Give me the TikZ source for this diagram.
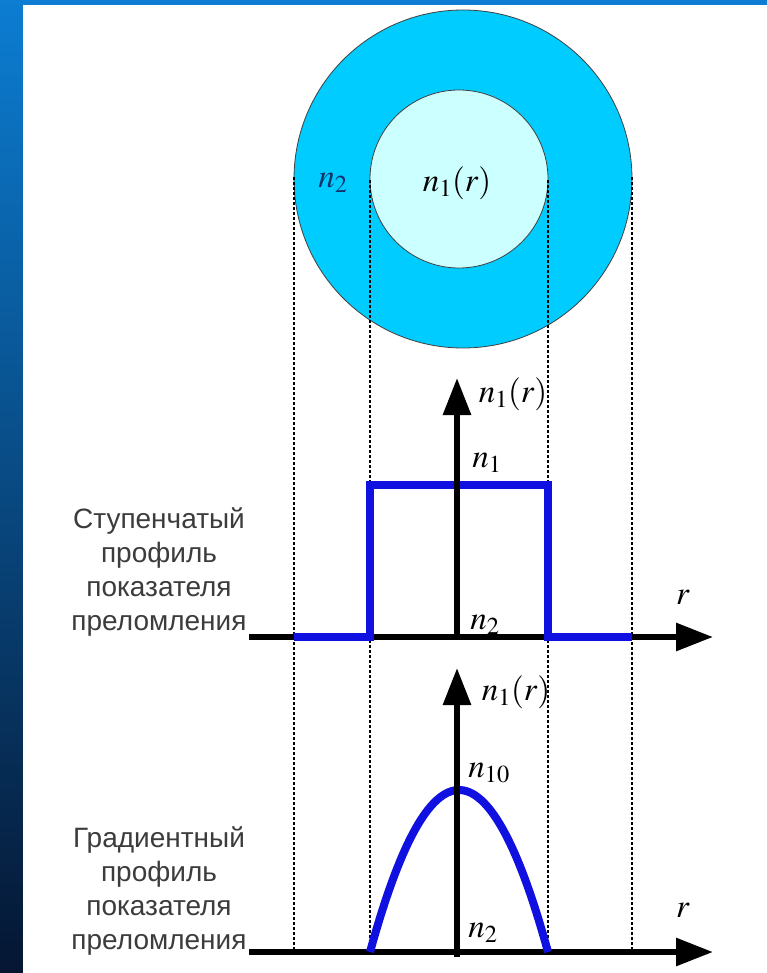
\documentclass[tikz,border=0pt]{standalone}
\usepackage{mathptmx}
\usepackage[no-math]{fontspec}
\setmainfont{Liberation Sans}
\usetikzlibrary{arrows.meta}
\definecolor{slidetop}{RGB}{12,125,210}
\definecolor{slidebot}{RGB}{5,22,50}
\definecolor{cladding}{RGB}{0,204,255}
\definecolor{core}{RGB}{204,255,255}
\definecolor{profile}{RGB}{16,16,224}
\definecolor{captiongray}{RGB}{60,60,60}
\definecolor{darkn}{RGB}{20,50,110}
\tikzset{
  guide/.style = {black, line width=2.2pt, dash pattern=on 3pt off 2pt},
  axis/.style = {black, line width=6pt, -{Triangle[length=37pt,width=27pt]}},
  prof/.style = {profile, line width=8pt},
  lbl/.style = {inner sep=0pt, font=\fontsize{33}{33}\selectfont},
  caption/.style = {align=center, text=captiongray, inner sep=0pt, font=\fontsize{28}{34}\selectfont},
}

\begin{document}
\begin{tikzpicture}[x=1pt, y=-1pt]
    \useasboundingbox (0,0) rectangle (767,973);
    \shade[top color=slidetop, bottom color=slidebot] (0,0) rectangle (767,973);
    \fill[white] (23,5) rectangle (767,973);
    \filldraw[fill=cladding, draw=black!75, line width=0.8pt] (463,179) circle (169);
    \filldraw[fill=core, draw=black!75, line width=0.8pt] (459,179) circle (89);
    \foreach \xg/\yg in {294/177, 370/180, 548/180, 632/177} {
      \draw[guide] (\xg,\yg) -- (\xg,952);
    }
    \node[lbl, text=darkn] (cladn) at (333,183) {$n_2$};
    \node[lbl] (coren) at (457,183) {$n_1(r)$};
    \draw[axis] (249,637) -- (713,637);
    \draw[prof] (294,637) -- (370,637) -- (370,485) -- (548,485) -- (548,637) -- (632,637);
    \draw[axis] (457,637) -- (457,378);
    \node[lbl] (stepaxis) at (513,394) {$n_1(r)$};
    \node[lbl] (stepmax) at (487,463) {$n_1$};
    \node[lbl] (stepmin) at (485,625) {$n_2$};
    \node[lbl] (stepr) at (683,597) {$r$};
    \node[caption] (steptext) at (159,572) {Ступенчатый\\профиль\\показателя\\преломления};
    \draw[axis] (249,952) -- (713,952);
    \draw[prof] plot[domain=370:548, samples=60] (\x, {952-162*(1-((\x-459)/89)^2)});
    \draw[axis] (457,957) -- (457,668);
    \node[lbl] (gradaxis) at (516,692) {$n_1(r)$};
    \node[lbl] (gradmax) at (489,773) {$n_{10}$};
    \node[lbl] (gradmin) at (483,933) {$n_2$};
    \node[lbl] (gradr) at (683,910) {$r$};
    \node[caption] (gradtext) at (159,891) {Градиентный\\профиль\\показателя\\преломления};
\end{tikzpicture}
\end{document}
